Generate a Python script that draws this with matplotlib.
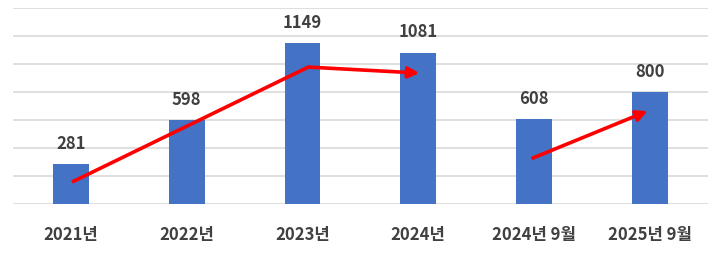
import matplotlib
matplotlib.use("Agg")
import matplotlib.pyplot as plt
import numpy as np

plt.rcParams['font.family'] = ['Noto Sans CJK KR', 'DejaVu Sans']

categories = ['2021년', '2022년', '2023년', '2024년', '2024년 9월', '2025년 9월']
values = [281, 598, 1149, 1081, 608, 800]

# red trend arrows (category position, value)
trend1_x = [0.01, 2.05, 3.01]
trend1_y = [154, 977, 934]
trend2_x = [3.99, 4.98]
trend2_y = [326, 662]

bar_color = '#4472C4'
text_color = '#404040'

fig = plt.figure(figsize=(7.2, 2.58), dpi=100)
ax = fig.add_axes([0.018, 0.211, 0.965, 0.758])

x = np.arange(len(categories))
ax.bar(x, values, width=0.31, color=bar_color, zorder=2)

for xi, v in zip(x, values):
    ax.annotate(str(v), (xi, v), xytext=(0, 8), textcoords='offset points',
                ha='center', va='bottom', fontsize=12, fontweight='bold',
                color=text_color)

# first arrow: polyline with head on last segment
ax.plot(trend1_x[:-1], trend1_y[:-1], color='#FF0000', lw=2.6,
        solid_capstyle='butt', zorder=3)
ax.annotate('', xy=(trend1_x[-1], trend1_y[-1]), xytext=(trend1_x[-2], trend1_y[-2]),
            arrowprops=dict(arrowstyle='-|>', color='#FF0000', lw=2.6,
                            mutation_scale=16, shrinkA=0, shrinkB=0), zorder=3)
ax.annotate('', xy=(trend2_x[1], trend2_y[1]), xytext=(trend2_x[0], trend2_y[0]),
            arrowprops=dict(arrowstyle='-|>', color='#FF0000', lw=2.6,
                            mutation_scale=16, shrinkA=0, shrinkB=0), zorder=3)

ax.set_xlim(-0.5, len(categories) - 0.5)
ax.set_ylim(0, 1400)
ax.set_yticks(np.arange(0, 1401, 200))
ax.yaxis.grid(True, color='#d9d9d9', lw=1.2, zorder=0)
ax.set_axisbelow(True)
ax.tick_params(axis='y', left=False, labelleft=False)
ax.tick_params(axis='x', bottom=False, pad=13)
ax.set_xticks(x)
ax.set_xticklabels(categories, fontsize=12, fontweight='bold', color=text_color)
for s in ax.spines.values():
    s.set_visible(False)

fig.savefig('out.png', dpi=100)
